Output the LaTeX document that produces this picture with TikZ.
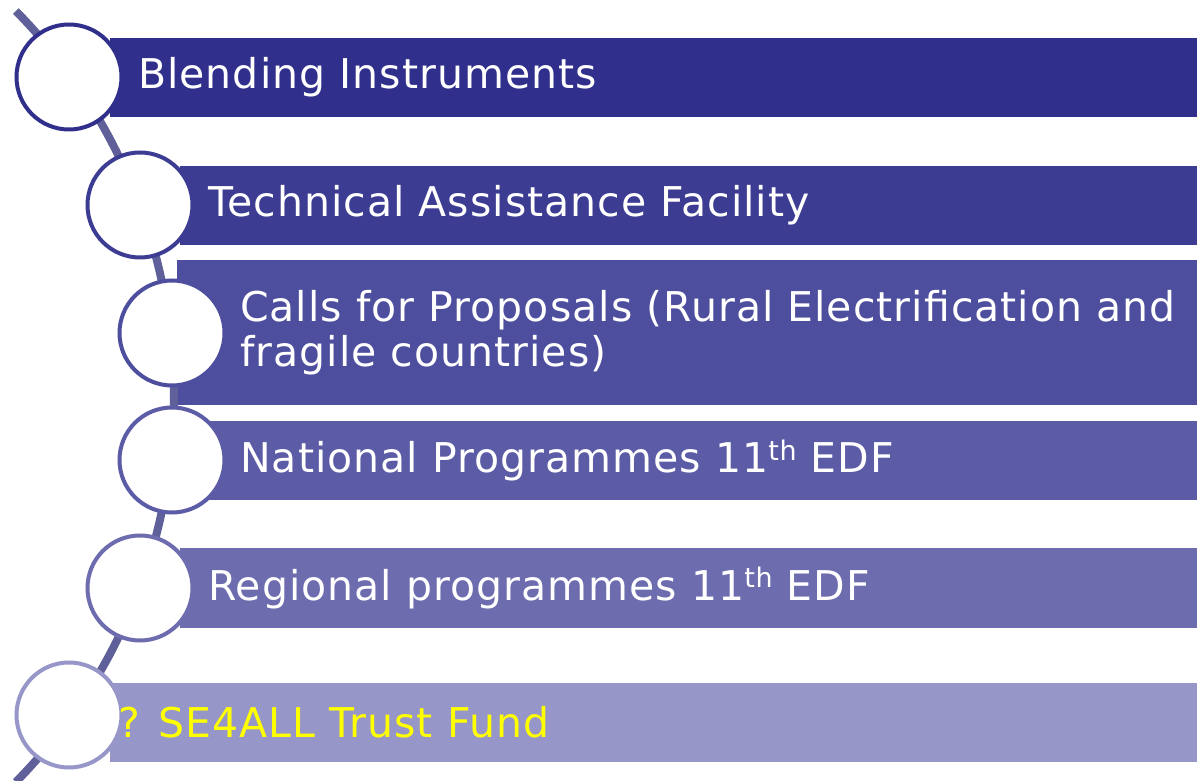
\documentclass[tikz,border=0pt]{standalone}
\usepackage{fontspec}
\setmainfont{DejaVu Sans}[LetterSpace=2.5]
\definecolor{cA}{HTML}{30308C}
\definecolor{cB}{HTML}{3C3C92}
\definecolor{cC}{HTML}{4E4E9E}
\definecolor{cD}{HTML}{5C5CA6}
\definecolor{cE}{HTML}{6C6CAE}
\definecolor{cF}{HTML}{9696C8}
\definecolor{arcc}{HTML}{5F5F99}
\definecolor{yel}{HTML}{FFFF00}
\newcommand{\supth}{\raisebox{0.30em}{\fontsize{27}{27}\selectfont th}}
\tikzset{
  bar/.style={fill=#1, draw=none},
  ring/.style={circle, draw=#1, line width=4pt, fill=white, minimum size=105pt, inner sep=0pt},
  lbl/.style={anchor=west, text=white, font=\fontsize{41}{45}\selectfont, inner sep=0pt, align=left}
}
\begin{document}
\begin{tikzpicture}[x=1pt,y=1pt]
\useasboundingbox (0,0) rectangle (1197,780);
\fill[white] (0,0) rectangle (1197,780);
% bars
\fill[bar=cA] (110,663) rectangle (1197,742);
\fill[bar=cB] (180,535) rectangle (1197,614);
\fill[bar=cC] (177,375) rectangle (1197,520);
\fill[bar=cD] (200,280) rectangle (1197,359);
\fill[bar=cE] (180,152) rectangle (1197,232);
\fill[bar=cF] (110,18) rectangle (1197,97);
% arc
\draw[arcc, line width=8pt] (-375,383.5) ++(44.6:549) arc[start angle=44.6, end angle=-44.6, radius=549];
% circles
\node[ring=cA] (c1) at (69,703) {};
\node[ring=cB] (c2) at (140,575) {};
\node[ring=cC] (c3) at (172,447) {};
\node[ring=cD] (c4) at (172,320) {};
\node[ring=cE] (c5) at (140,192) {};
\node[ring=cF] (c6) at (69,65) {};
% labels
\node[lbl] (t1) at (138,702.5) {Blending Instruments};
\node[lbl] (t2) at (208,574.5) {Technical Assistance Facility};
\node[lbl] (t3) at (240,447) {Calls for Proposals (Rural Electrification and\\fragile countries)};
\node[lbl] (t4) at (240,319.5) {National Programmes 11\supth{} EDF};
\node[lbl] (t5) at (208,192) {Regional programmes 11\supth{} EDF};
\node[lbl, text=yel] (t6) at (118,57.5) {? SE4ALL Trust Fund};
\end{tikzpicture}
\end{document}
